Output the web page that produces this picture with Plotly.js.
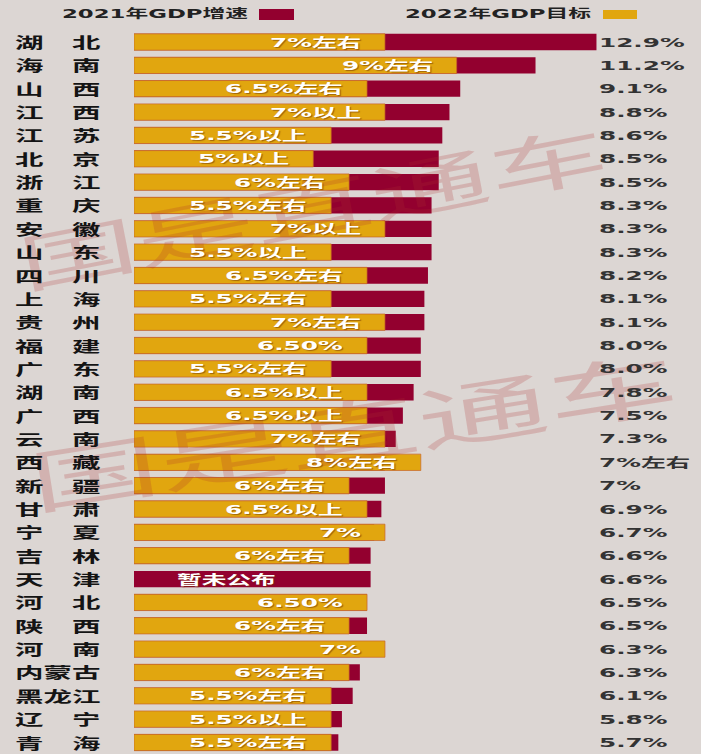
<!DOCTYPE html>
<html><head><meta charset="utf-8">
<script src="https://cdn.plot.ly/plotly-3.0.1.min.js"></script>
<style>
html,body{margin:0;padding:0;background:#dcd6d3;}
text.annotation-text{transform-box:fill-box;transform:scaleX(1.9);}
text.annotation-text[text-anchor="start"]{transform-origin:left center;}
text.annotation-text[text-anchor="end"]{transform-origin:right center;}
text.annotation-text[text-anchor="middle"]{transform-origin:center center;}
</style>
</head><body>
<div id="chart" style="width:701px;height:754px;"></div>
<script>
const provinces = ['湖北','海南','山西','江西','江苏','北京','浙江','重庆','安徽','山东','四川','上海','贵州','福建','广东','湖南','广西','云南','西藏','新疆','甘肃','宁夏','吉林','天津','河北','陕西','河南','内蒙古','黑龙江','辽宁','青海'];
const growth2021 = [12.9,11.2,9.1,8.8,8.6,8.5,8.5,8.3,8.3,8.3,8.2,8.1,8.1,8.0,8.0,7.8,7.5,7.3,7,7,6.9,6.7,6.6,6.6,6.5,6.5,6.3,6.3,6.1,5.8,5.7];
const growthLabels = ['12.9%','11.2%','9.1%','8.8%','8.6%','8.5%','8.5%','8.3%','8.3%','8.3%','8.2%','8.1%','8.1%','8.0%','8.0%','7.8%','7.5%','7.3%','7%左右','7%','6.9%','6.7%','6.6%','6.6%','6.5%','6.5%','6.3%','6.3%','6.1%','5.8%','5.7%'];
const target2022 = [7,9,6.5,7,5.5,5,6,5.5,7,5.5,6.5,5.5,7,6.5,5.5,6.5,6.5,7,8,6,6.5,7,6,null,6.5,6,7,6,5.5,5.5,5.5];
const targetLabels = ['7%左右','9%左右','6.5%左右','7%以上','5.5%以上','5%以上','6%左右','5.5%左右','7%以上','5.5%以上','6.5%左右','5.5%左右','7%左右','6.50%','5.5%左右','6.5%以上','6.5%以上','7%左右','8%左右','6%左右','6.5%以上','7%','6%左右','暂未公布','6.50%','6%左右','7%','6%左右','5.5%左右','5.5%以上','5.5%左右'];
const legendNames = ['2021年GDP增速','2022年GDP目标'];
const watermark = '国是直通车';

const RED = '#93002f', GOLD = '#e1a60f', BG = '#dcd6d3';
const W = 701, H = 754, L = 134, R = 100, T = 30, B = 0;
const pw = W - L - R, ph = H - T - B;
const px = p => (p - L) / pw;
const py = p => (H - B - p) / ph;
const sans = 'DejaVu Sans, Noto Sans CJK SC, sans-serif';

const traces = [
  {type:'bar', orientation:'h', y:provinces, x:growth2021, name:legendNames[0],
   marker:{color:RED, line:{width:0}}, hoverinfo:'x+y'},
  {type:'bar', orientation:'h', y:provinces, x:target2022, name:legendNames[1],
   marker:{color:GOLD, line:{width:1, color:'rgba(200,100,40,0.7)'}}, hoverinfo:'x+y'}
];

const ann = [];
// watermark (two copies)
ann.push({xref:'paper', yref:'paper', x:px(312), y:py(205), text:watermark, showarrow:false,
  textangle:-11, xanchor:'center', yanchor:'middle',
  font:{family:'Noto Sans CJK SC', size:63, color:'rgba(175,45,45,0.21)'}});
ann.push({xref:'paper', yref:'paper', x:px(352), y:py(428), text:watermark, showarrow:false,
  textangle:-9, xanchor:'center', yanchor:'middle',
  font:{family:'Noto Sans CJK SC', size:69, color:'rgba(175,45,45,0.21)'}});
// province names
provinces.forEach(p=>{
  const t = p.length === 2 ? p[0] + '\u3000' + p[1] : p;
  ann.push({xref:'paper', yref:'y', x:px(14), y:p, text:t, showarrow:false,
    xanchor:'left', align:'left', borderpad:0,
    font:{family:'Noto Sans CJK SC', size:15, weight:700, color:'#141414'}});
});
// right labels
provinces.forEach((p,i)=>{
  ann.push({xref:'paper', yref:'y', x:1, xshift:-3, y:p, text:growthLabels[i], showarrow:false,
    xanchor:'left', align:'left', borderpad:0,
    font:{family:sans, size:13, weight:700, color:'#333333'}});
});
// bar labels
provinces.forEach((p,i)=>{
  const v = target2022[i];
  const a = {xref:'x', yref:'y', y:p, text:targetLabels[i], showarrow:false, borderpad:0,
    font:{family:sans, size:13, weight:700, color:'#ffffff', shadow:'1px 1px 1px rgba(110,50,0,0.55)'}};
  if (v === null) { a.x = 0; a.xanchor = 'left'; a.align = 'left'; a.xshift = 42; }
  else { a.x = v; a.xanchor = 'right'; a.align = 'right'; a.xshift = -23; }
  ann.push(a);
});
// legend texts
ann.push({xref:'paper', yref:'paper', x:px(61), y:py(14), text:legendNames[0], showarrow:false,
  xanchor:'left', yanchor:'middle', align:'left', borderpad:0, font:{family:sans, size:12, weight:700, color:'#222'}});
ann.push({xref:'paper', yref:'paper', x:px(404), y:py(14), text:legendNames[1], showarrow:false,
  xanchor:'left', yanchor:'middle', align:'left', borderpad:0, font:{family:sans, size:12, weight:700, color:'#222'}});

const shapes = [
  {type:'rect', xref:'paper', yref:'paper', x0:px(259), x1:px(294), y0:py(20), y1:py(9), fillcolor:RED, line:{width:0}},
  {type:'rect', xref:'paper', yref:'paper', x0:px(603), x1:px(637), y0:py(19), y1:py(10), fillcolor:GOLD, line:{width:0}}
];

const rowPitch = 23.35;
const layout = {
  width:W, height:H, margin:{l:L, r:R, t:T, b:B, pad:0},
  paper_bgcolor:BG, plot_bgcolor:BG, showlegend:false,
  barmode:'overlay', bargap:0.3,
  xaxis:{range:[0, pw/35.85], visible:false, fixedrange:true},
  yaxis:{type:'category', categoryorder:'array', categoryarray:provinces,
    range:[30 + (H - 742.5)/rowPitch, -(42 - T)/rowPitch], visible:false, fixedrange:true},
  annotations:ann, shapes:shapes
};
Plotly.newPlot('chart', traces, layout, {displayModeBar:false, staticPlot:true});
</script>
</body></html>
